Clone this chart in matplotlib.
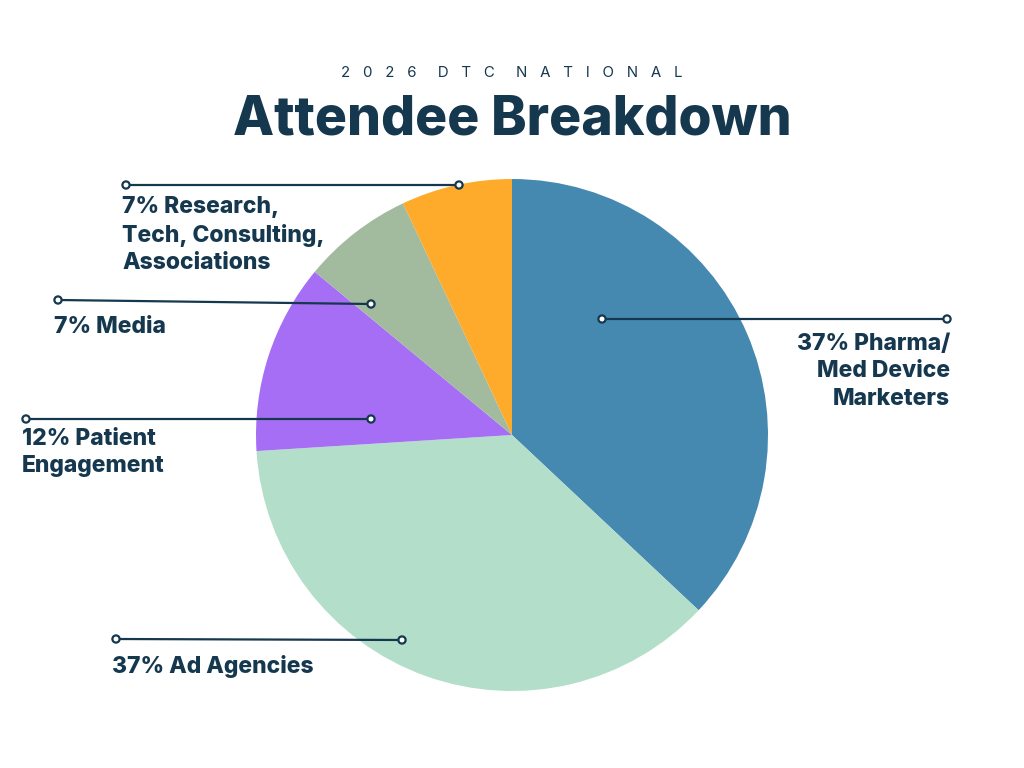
import matplotlib.pyplot as plt
from matplotlib.patches import Circle

# data
labels = ["Pharma/\nMed Device\nMarketers", "Ad Agencies", "Patient\nEngagement",
          "Media", "Research,\nTech, Consulting,\nAssociations"]
shares = [37, 37, 12, 7, 7]
COLORS = ["#4589B0", "#B3DEC9", "#A66EF5", "#A2BB9E", "#FEAA2A"]

NAVY = "#15384F"
W, H = 1024, 768

fig = plt.figure(figsize=(W / 100, H / 100), dpi=100)
ax = fig.add_axes([0, 0, 1, 1])

ax.pie(shares, colors=COLORS, startangle=90, counterclock=False,
       center=(512, H - 435), radius=256, frame=True,
       wedgeprops=dict(linewidth=0))
ax.set_xlim(0, W)
ax.set_ylim(0, H)
ax.set_aspect("equal")
ax.axis("off")

# callouts: (inner dot, outer dot, text anchor, alignment) in pixel coords
callouts = [
    ((602, 319), (947, 319), (950, 333), "right"),
    ((402, 640), (116, 639), (112, 655), "left"),
    ((371, 419), (26, 419), (22, 428), "left"),
    ((371, 304), (58, 300), (54, 316), "left"),
    ((459, 185), (126, 185), (122, 196), "left"),
]

for (p_in, p_out, p_txt, ha), lab, pct in zip(callouts, labels, shares):
    x0, y0 = p_in
    x1, y1 = p_out
    ax.plot([x0, x1], [H - y0, H - y1], color=NAVY, lw=1.6, zorder=5)
    for (cx, cy) in (p_in, p_out):
        ax.add_patch(Circle((cx, H - cy), 3.6, facecolor="white",
                            edgecolor=NAVY, lw=1.6, zorder=6))
    ax.text(p_txt[0], H - p_txt[1], f"{pct}% {lab}", ha=ha, va="top",
            fontsize=16.5, fontweight="heavy", family="Inter", color=NAVY,
            linespacing=1.32, multialignment=ha)

# titles
fig.text(0.5, 1 - 73 / H, "2   0   2   6     D   T   C     N   A   T   I   O   N   A   L",
         ha="center", va="center", fontsize=10.8, family="Inter", color=NAVY)
fig.text(0.5, 1 - 120 / H, "Attendee Breakdown", ha="center", va="center",
         fontsize=38.5, fontweight="heavy", family="Inter", color=NAVY)

fig.savefig("out.png", dpi=100, facecolor="white")
